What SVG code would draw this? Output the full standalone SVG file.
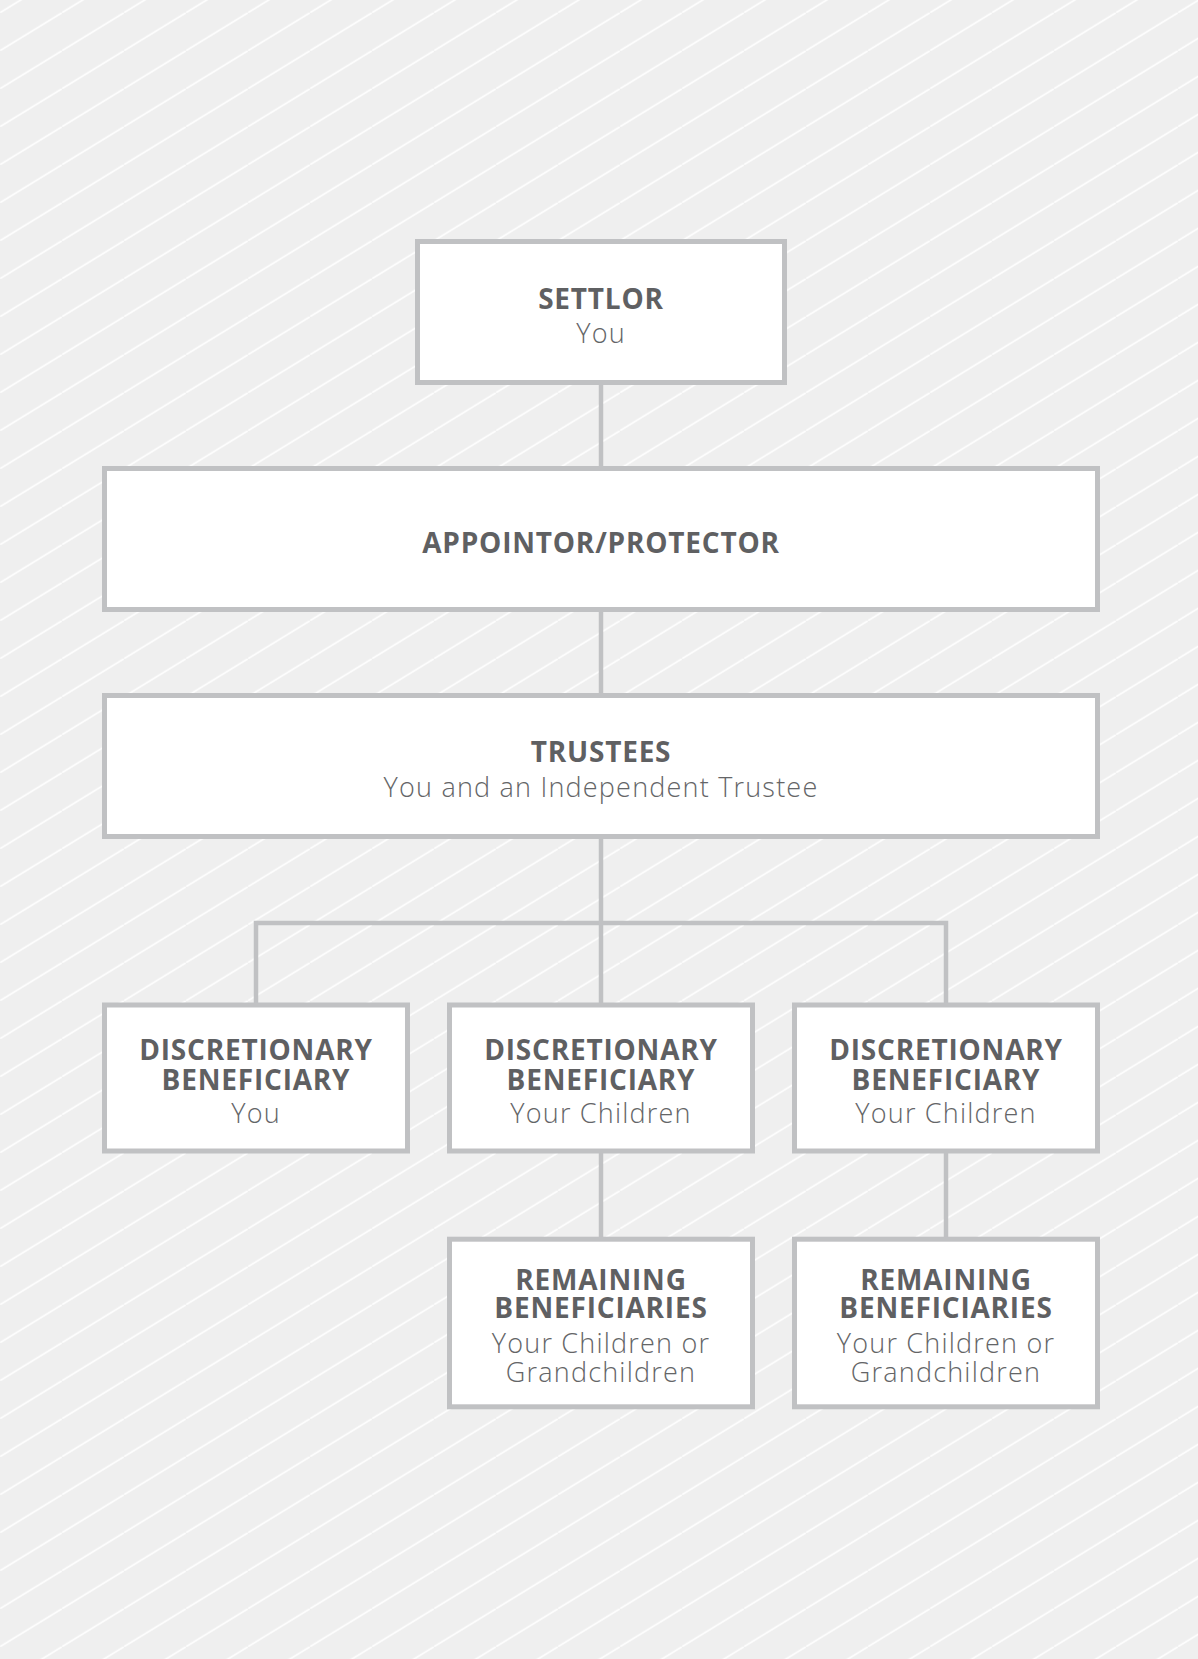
<svg xmlns="http://www.w3.org/2000/svg" width="1198" height="1659" viewBox="0 0 1198 1659">
<defs>
<pattern id="stripes" patternUnits="userSpaceOnUse" x="0" y="12.7" width="62" height="38">
<rect x="0" y="0" width="62" height="38" fill="#efefef"/>
<line x1="-62" y1="76" x2="124" y2="-38" stroke="#ffffff" stroke-width="1.6"/>
</pattern>
<style>
.box{fill:#ffffff;stroke:#c0c1c3;stroke-width:5}
.conn{fill:none;stroke:#c0c1c3;stroke-width:4.5}
.t{font-family:"Open Sans","Liberation Sans",sans-serif;font-weight:700;font-size:28px;letter-spacing:0.8px;fill:#5f6062;text-anchor:middle}
.s{font-family:"Open Sans","Liberation Sans",sans-serif;font-weight:300;font-size:27px;letter-spacing:1.2px;fill:#646567;text-anchor:middle}
</style>
</defs>
<rect x="0" y="0" width="1198" height="1659" fill="url(#stripes)"/>
<g id="connectors">
<line class="conn" x1="601" y1="384" x2="601" y2="467"/>
<line class="conn" x1="601" y1="611" x2="601" y2="694"/>
<line class="conn" x1="601" y1="838" x2="601" y2="1003"/>
<polyline class="conn" points="256,1003 256,923 946,923 946,1003"/>
<line class="conn" x1="601" y1="1152" x2="601" y2="1238"/>
<line class="conn" x1="946" y1="1152" x2="946" y2="1238"/>
</g>
<g id="settlor">
<rect class="box" x="417.5" y="241.5" width="367" height="141"/>
<text class="t" x="601" y="309">SETTLOR</text>
<text class="s" x="601" y="343">You</text>
</g>
<g id="appointor">
<rect class="box" x="104.5" y="468.5" width="993" height="141"/>
<text class="t" x="601" y="553">APPOINTOR/PROTECTOR</text>
</g>
<g id="trustees">
<rect class="box" x="104.5" y="695.5" width="993" height="141"/>
<text class="t" x="601" y="762">TRUSTEES</text>
<text class="s" x="601" y="797">You and an Independent Trustee</text>
</g>
<g id="disc1">
<rect class="box" x="104.5" y="1005" width="303" height="146"/>
<text class="t" x="256" y="1060">DISCRETIONARY</text>
<text class="t" x="256" y="1090">BENEFICIARY</text>
<text class="s" x="256" y="1123">You</text>
</g>
<g id="disc2">
<rect class="box" x="449.5" y="1005" width="303" height="146"/>
<text class="t" x="601" y="1060">DISCRETIONARY</text>
<text class="t" x="601" y="1090">BENEFICIARY</text>
<text class="s" x="601" y="1123">Your Children</text>
</g>
<g id="disc3">
<rect class="box" x="794.5" y="1005" width="303" height="146"/>
<text class="t" x="946" y="1060">DISCRETIONARY</text>
<text class="t" x="946" y="1090">BENEFICIARY</text>
<text class="s" x="946" y="1123">Your Children</text>
</g>
<g id="remaining1">
<rect class="box" x="449.5" y="1239.2" width="303" height="167.6"/>
<text class="t" x="601" y="1290">REMAINING</text>
<text class="t" x="601" y="1318">BENEFICIARIES</text>
<text class="s" x="601" y="1353">Your Children or</text>
<text class="s" x="601" y="1382">Grandchildren</text>
</g>
<g id="remaining2">
<rect class="box" x="794.5" y="1239.2" width="303" height="167.6"/>
<text class="t" x="946" y="1290">REMAINING</text>
<text class="t" x="946" y="1318">BENEFICIARIES</text>
<text class="s" x="946" y="1353">Your Children or</text>
<text class="s" x="946" y="1382">Grandchildren</text>
</g>
</svg>
